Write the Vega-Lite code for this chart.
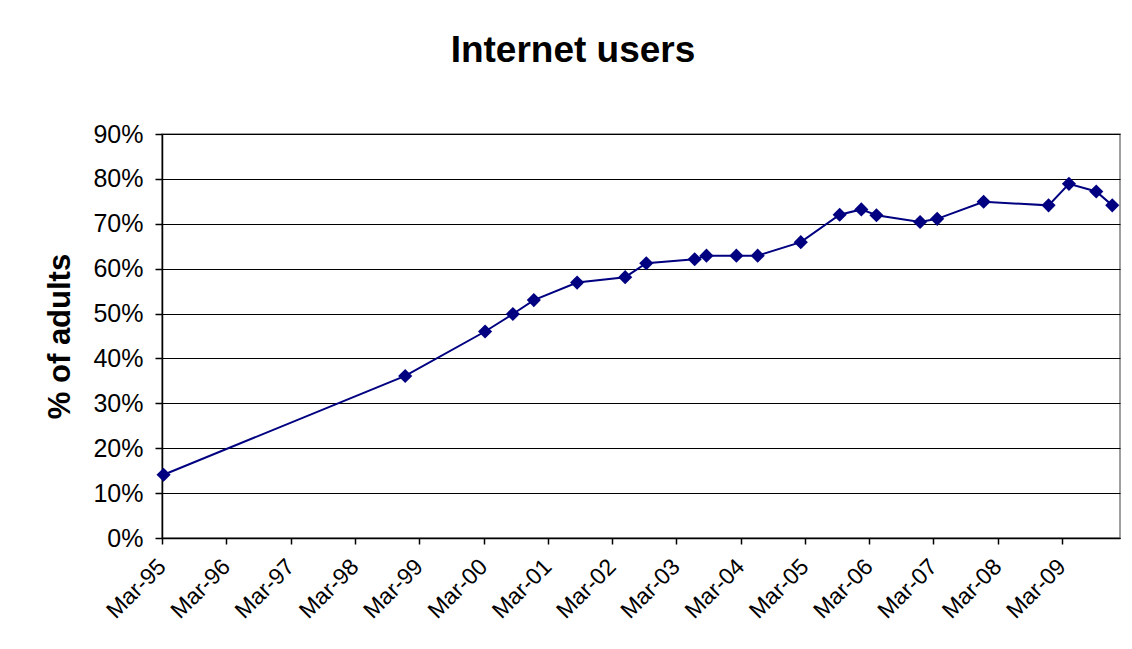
{
  "$schema": "https://vega.github.io/schema/vega-lite/v6.json",
  "width": 958,
  "height": 404,
  "autosize": {"type": "none"},
  "padding": {"left": 162, "top": 134, "right": 12, "bottom": 111},
  "background": "white",
  "title": {
    "text": "Internet users",
    "font": "Liberation Sans",
    "fontSize": 37,
    "fontWeight": "bold",
    "color": "black",
    "anchor": "middle",
    "frame": "group",
    "dx": -68,
    "offset": 52
  },
  "config": {
    "view": {"stroke": "#808080", "strokeWidth": 1.5},
    "font": "Liberation Sans"
  },
  "data": {
    "values": [
      {"date": "1995-03-10", "pct": 0.141},
      {"date": "1998-12-12", "pct": 0.361},
      {"date": "2000-03-10", "pct": 0.460},
      {"date": "2000-08-15", "pct": 0.499},
      {"date": "2000-12-12", "pct": 0.530},
      {"date": "2001-08-15", "pct": 0.569},
      {"date": "2002-05-15", "pct": 0.581},
      {"date": "2002-09-12", "pct": 0.612},
      {"date": "2003-06-14", "pct": 0.621},
      {"date": "2003-08-20", "pct": 0.629},
      {"date": "2004-02-06", "pct": 0.629},
      {"date": "2004-06-06", "pct": 0.629},
      {"date": "2005-02-06", "pct": 0.659},
      {"date": "2005-09-15", "pct": 0.720},
      {"date": "2006-01-16", "pct": 0.732},
      {"date": "2006-04-12", "pct": 0.719},
      {"date": "2006-12-16", "pct": 0.704},
      {"date": "2007-03-23", "pct": 0.711},
      {"date": "2007-12-12", "pct": 0.749},
      {"date": "2008-12-15", "pct": 0.741},
      {"date": "2009-04-10", "pct": 0.789},
      {"date": "2009-09-12", "pct": 0.772},
      {"date": "2009-12-12", "pct": 0.741}
    ]
  },
  "encoding": {
    "x": {
      "field": "date",
      "type": "temporal",
      "title": null,
      "scale": {
        "type": "utc",
        "domain": [
          {"year": 1995, "month": 3, "date": 1, "utc": true},
          {"year": 2010, "month": 1, "date": 25, "utc": true}
        ]
      },
      "axis": {
        "values": [
          {"year": 1995, "month": 3, "date": 1, "utc": true},
          {"year": 1996, "month": 3, "date": 1, "utc": true},
          {"year": 1997, "month": 3, "date": 1, "utc": true},
          {"year": 1998, "month": 3, "date": 1, "utc": true},
          {"year": 1999, "month": 3, "date": 1, "utc": true},
          {"year": 2000, "month": 3, "date": 1, "utc": true},
          {"year": 2001, "month": 3, "date": 1, "utc": true},
          {"year": 2002, "month": 3, "date": 1, "utc": true},
          {"year": 2003, "month": 3, "date": 1, "utc": true},
          {"year": 2004, "month": 3, "date": 1, "utc": true},
          {"year": 2005, "month": 3, "date": 1, "utc": true},
          {"year": 2006, "month": 3, "date": 1, "utc": true},
          {"year": 2007, "month": 3, "date": 1, "utc": true},
          {"year": 2008, "month": 3, "date": 1, "utc": true},
          {"year": 2009, "month": 3, "date": 1, "utc": true}
        ],
        "labelExpr": "utcFormat(datum.value, '%b-%y')",
        "labelAngle": -45,
        "labelAlign": "right",
        "labelBaseline": "top",
        "labelFontSize": 23,
        "labelColor": "black",
        "labelPadding": 11,
        "labelOffset": -8,
        "labelOverlap": false,
        "labelFlush": false,
        "labelBound": false,
        "grid": false,
        "domainColor": "black",
        "domainWidth": 1.5,
        "tickColor": "black",
        "tickWidth": 1.5,
        "tickSize": 6
      }
    },
    "y": {
      "field": "pct",
      "type": "quantitative",
      "title": "% of adults",
      "scale": {"domain": [0, 0.9], "nice": false, "zero": true},
      "axis": {
        "values": [0, 0.1, 0.2, 0.3, 0.4, 0.5, 0.6, 0.7, 0.8, 0.9],
        "format": ".0%",
        "labelFontSize": 25,
        "labelColor": "black",
        "labelPadding": 12,
        "labelFlush": false,
        "labelBound": false,
        "titleFontSize": 31,
        "titleFontWeight": "bold",
        "titleColor": "black",
        "titlePadding": 16,
        "grid": true,
        "gridColor": "black",
        "gridWidth": 1,
        "gridOpacity": 1,
        "domainColor": "black",
        "domainWidth": 1.5,
        "tickColor": "black",
        "tickWidth": 1.5,
        "tickSize": 7
      }
    }
  },
  "layer": [
    {"mark": {"type": "line", "color": "#000080", "strokeWidth": 2}},
    {"mark": {"type": "point", "shape": "diamond", "filled": true, "color": "#000080", "opacity": 1, "size": 200}}
  ]
}
